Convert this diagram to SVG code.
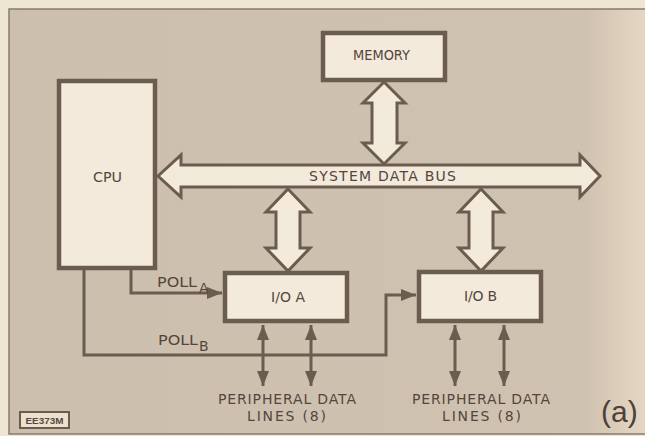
<svg xmlns="http://www.w3.org/2000/svg" width="645" height="436" viewBox="0 0 645 436">
<defs>
<linearGradient id="bg" x1="0" y1="0" x2="1" y2="0">
<stop offset="0" stop-color="#cdbfae"/>
<stop offset="0.9" stop-color="#d0c2b0"/>
<stop offset="1" stop-color="#e6d8c4"/>
</linearGradient>
<marker id="ah" viewBox="0 0 10 10" refX="10" refY="5" markerWidth="5" markerHeight="5" orient="auto-start-reverse" markerUnits="strokeWidth">
<path d="M0,1 L10,5 L0,9 Z" fill="#6b5c50"/>
</marker>
<style>
.box{fill:#f3eadb;stroke:#6b5c50;stroke-width:4.5}
.big{fill:#f3eadb;stroke:#6b5c50;stroke-width:3;stroke-linejoin:miter}
.ln{fill:none;stroke:#6b5c50;stroke-width:3}
.t{font-family:"DejaVu Sans","Liberation Sans",sans-serif;font-size:14px;fill:#54463d}
</style>
</defs>
<rect x="0" y="0" width="645" height="436" fill="#efe5d3"/>
<rect x="9" y="9" width="640" height="425" fill="url(#bg)" stroke="#8a7b6e" stroke-width="1.5"/>

<g id="connectors">
<polygon class="big" points="384,82 405,103 397,103 397,143 405,143 384,164 363,143 372,143 372,103 363,103"/>
<polygon class="big" points="288,189 310,212 300,212 300,248 310,248 288,271 266,248 276,248 276,212 266,212"/>
<polygon class="big" points="481,189 503,212 493,212 493,248 503,248 481,271 459,248 469,248 469,212 459,212"/>
<polyline class="ln" points="131,268 131,293 222,293" marker-end="url(#ah)"/>
<polyline class="ln" points="84,268 84,355 386,355 386,295 416,295" marker-end="url(#ah)"/>
<line class="ln" x1="263" y1="325" x2="263" y2="386" marker-start="url(#ah)" marker-end="url(#ah)"/>
<line class="ln" x1="311" y1="325" x2="311" y2="386" marker-start="url(#ah)" marker-end="url(#ah)"/>
<line class="ln" x1="455" y1="325" x2="455" y2="386" marker-start="url(#ah)" marker-end="url(#ah)"/>
<line class="ln" x1="504" y1="325" x2="504" y2="386" marker-start="url(#ah)" marker-end="url(#ah)"/>
<text class="t" x="157" y="287" textLength="40" lengthAdjust="spacingAndGlyphs">POLL</text>
<text class="t" x="199" y="293">A</text>
<text class="t" x="158" y="345" textLength="40" lengthAdjust="spacingAndGlyphs">POLL</text>
<text class="t" x="199" y="351">B</text>
</g>

<g id="bus">
<polygon class="big" points="158,176 181,155 181,165 580,165 580,155 600,176 580,197 580,187 181,187 181,197"/>
<text class="t" x="309" y="181" textLength="147" lengthAdjust="spacing">SYSTEM DATA BUS</text>
</g>

<g id="memory">
<rect class="box" x="323" y="33" width="122" height="47"/>
<text class="t" x="353" y="60" textLength="57" lengthAdjust="spacingAndGlyphs">MEMORY</text>
</g>

<g id="cpu">
<rect class="box" x="59" y="81" width="96" height="187"/>
<text class="t" x="93" y="182" textLength="29" lengthAdjust="spacingAndGlyphs">CPU</text>
</g>

<g id="ioa">
<rect class="box" x="225" y="273" width="122" height="48"/>
<text class="t" x="271" y="302" textLength="34" lengthAdjust="spacing">I/O A</text>
</g>

<g id="iob">
<rect class="box" x="419" y="272" width="122" height="49"/>
<text class="t" x="464" y="301" textLength="33" lengthAdjust="spacing">I/O B</text>
</g>

<g id="periph-a">
<text class="t" x="218" y="404" textLength="138" lengthAdjust="spacing">PERIPHERAL DATA</text>
<text class="t" x="247" y="421" textLength="79" lengthAdjust="spacing">LINES (8)</text>
</g>
<g id="periph-b">
<text class="t" x="412" y="404" textLength="138" lengthAdjust="spacing">PERIPHERAL DATA</text>
<text class="t" x="442" y="421" textLength="79" lengthAdjust="spacing">LINES (8)</text>
</g>

<g id="label">
<rect x="20" y="412" width="49" height="16" fill="#ece1cf" stroke="#6b5c50" stroke-width="2"/>
<text x="44.5" y="424" text-anchor="middle" font-family="'Liberation Sans',sans-serif" font-size="9" font-weight="bold" fill="#564840" textLength="38" lengthAdjust="spacingAndGlyphs">EE373M</text>
<text x="601" y="422" font-family="'Liberation Sans',sans-serif" font-size="30" fill="#4e4038">(a)</text>
</g>
</svg>
